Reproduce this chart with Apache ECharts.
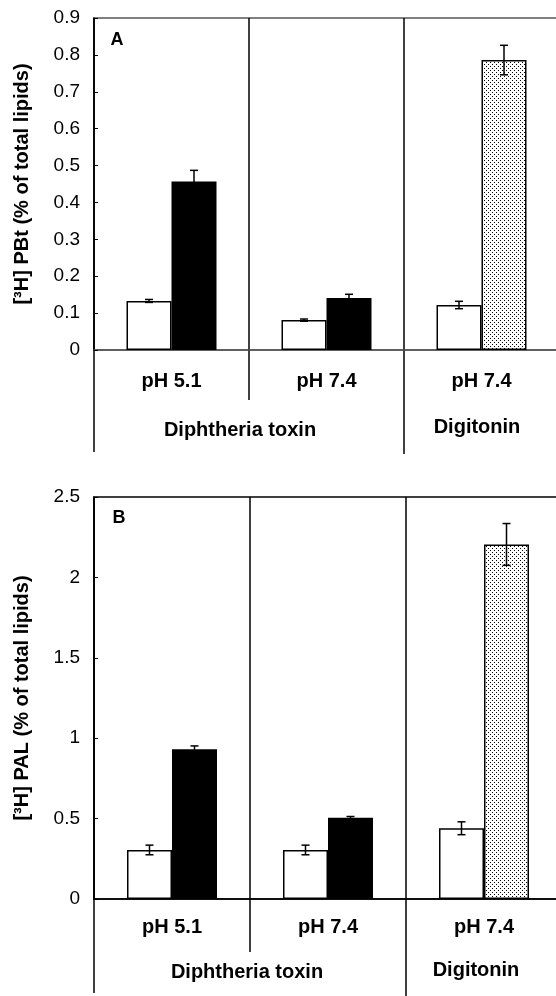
<!DOCTYPE html>
<html>
<head>
<meta charset="utf-8">
<script src="https://cdn.jsdelivr.net/npm/echarts@6/dist/echarts.min.js"></script>
<style>
  html, body { margin: 0; padding: 0; background: #fff; }
  #chart { width: 556px; height: 996px; }
</style>
</head>
<body>
<div id="chart"></div>
<script>
// data
var categories = ['pH 5.1', 'pH 7.4', 'pH 7.4'];
var groupLabels = ['Diphtheria toxin', 'Digitonin'];
var pbtControl = [0.133, 0.081, 0.122];
var pbtControlErr = [0.004, 0.003, 0.01];
var pbtTreated = [0.457, 0.141, 0.786];
var pbtTreatedErr = [0.03, 0.01, 0.04];
var palControl = [0.305, 0.305, 0.44];
var palControlErr = [0.03, 0.03, 0.04];
var palTreated = [0.932, 0.505, 2.205];
var palTreatedErr = [0.02, 0.008, 0.13];

var FONT = "'Liberation Sans', Arial, sans-serif";
var BAR_W = 45;
var gridA = { left: 94, top: 18, width: 465, height: 332 };
var gridB = { left: 94, top: 497, width: 468, height: 402 };

// dotted fill for the digitonin bars
function dotPattern() {
    var c = document.createElement('canvas');
    c.width = 4; c.height = 4;
    var ctx = c.getContext('2d');
    ctx.fillStyle = '#fff';
    ctx.fillRect(0, 0, 4, 4);
    ctx.fillStyle = '#000';
    ctx.fillRect(0, 0, 1, 1);
    ctx.fillRect(2, 2, 1, 1);
    return c;
}
var dots = { image: dotPattern(), repeat: 'repeat' };

function errData(vals, errs) {
    return vals.map(function (v, i) { return [i, v, errs[i]]; });
}

function errRender(offset) {
    return function (params, api) {
        var i = api.value(0), v = api.value(1), e = api.value(2);
        var hi = api.coord([i, v + e]);
        var lo = api.coord([i, v - e]);
        var x = hi[0] + offset;
        var st = { stroke: '#000', lineWidth: 1.5 };
        return {
            type: 'group',
            children: [
                { type: 'line', shape: { x1: x, y1: hi[1], x2: x, y2: lo[1] }, style: st },
                { type: 'line', shape: { x1: x - 4, y1: hi[1], x2: x + 4, y2: hi[1] }, style: st },
                { type: 'line', shape: { x1: x - 4, y1: lo[1], x2: x + 4, y2: lo[1] }, style: st }
            ]
        };
    };
}

function treatedData(vals) {
    return vals.map(function (v, i) {
        if (i === 2) return { value: v, itemStyle: { color: dots, borderColor: '#000', borderWidth: 1.5 } };
        return v;
    });
}

function xAxisFor(idx, hColor, margin) {
    return {
        type: 'category', gridIndex: idx, data: categories,
        axisLine: { lineStyle: { color: hColor, width: 1.5 } },
        axisTick: { show: false },
        splitLine: { show: true, lineStyle: { color: '#000', width: 1.5 } },
        axisLabel: { margin: margin, color: '#000', fontFamily: FONT, fontWeight: 'bold', fontSize: 20 }
    };
}

function yAxisFor(idx, max, interval, name) {
    return {
        type: 'value', gridIndex: idx, min: 0, max: max, interval: interval,
        name: name, nameLocation: 'middle', nameGap: 62, nameRotate: 90,
        nameTextStyle: { color: '#000', fontFamily: FONT, fontWeight: 'bold', fontSize: 20 },
        axisLine: { show: true, lineStyle: { color: '#000', width: 1.5 } },
        axisTick: { show: true, inside: true, length: 4, lineStyle: { color: '#000' } },
        splitLine: { show: false },
        axisLabel: { margin: 14, color: '#000', fontFamily: FONT, fontSize: 19 }
    };
}

function vline(x, y1, y2) {
    return { type: 'line', shape: { x1: x, y1: y1, x2: x, y2: y2 }, style: { stroke: '#000', lineWidth: 1.5 } };
}
function label(text, x, y, size) {
    return {
        type: 'text', x: x, y: y,
        style: { text: text, fill: '#000', font: 'bold ' + size + 'px ' + FONT, textAlign: 'center', textVerticalAlign: 'middle' }
    };
}

function gridOf(g, color) {
    return {
        left: g.left, top: g.top, width: g.width, height: g.height,
        outerBoundsMode: 'none', containLabel: false,
        show: true, borderColor: color, borderWidth: 1.5
    };
}

var chart = echarts.init(document.getElementById('chart'));
var option = {
    animation: false,
    grid: [gridOf(gridA, '#555'), gridOf(gridB, '#000')],
    xAxis: [xAxisFor(0, '#555', 21), xAxisFor(1, '#000', 18)],
    yAxis: [
        yAxisFor(0, 0.9, 0.1, '[³H] PBt (% of total lipids)'),
        yAxisFor(1, 2.5, 0.5, '[³H] PAL (% of total lipids)')
    ],
    series: [
        { type: 'bar', xAxisIndex: 0, yAxisIndex: 0, data: pbtControl, barWidth: BAR_W, barGap: '0%',
          itemStyle: { color: '#fff', borderColor: '#000', borderWidth: 1.5 } },
        { type: 'bar', xAxisIndex: 0, yAxisIndex: 0, data: treatedData(pbtTreated), barWidth: BAR_W, barGap: '0%',
          itemStyle: { color: '#000', borderColor: '#000', borderWidth: 1.5 } },
        { type: 'custom', xAxisIndex: 0, yAxisIndex: 0, z: 5, data: errData(pbtControl, pbtControlErr), renderItem: errRender(-BAR_W / 2) },
        { type: 'custom', xAxisIndex: 0, yAxisIndex: 0, z: 5, data: errData(pbtTreated, pbtTreatedErr), renderItem: errRender(BAR_W / 2) },

        { type: 'bar', xAxisIndex: 1, yAxisIndex: 1, data: palControl, barWidth: BAR_W, barGap: '0%',
          itemStyle: { color: '#fff', borderColor: '#000', borderWidth: 1.5 } },
        { type: 'bar', xAxisIndex: 1, yAxisIndex: 1, data: treatedData(palTreated), barWidth: BAR_W, barGap: '0%',
          itemStyle: { color: '#000', borderColor: '#000', borderWidth: 1.5 } },
        { type: 'custom', xAxisIndex: 1, yAxisIndex: 1, z: 5, data: errData(palControl, palControlErr), renderItem: errRender(-BAR_W / 2) },
        { type: 'custom', xAxisIndex: 1, yAxisIndex: 1, z: 5, data: errData(palTreated, palTreatedErr), renderItem: errRender(BAR_W / 2) }
    ],
    graphic: [
        // table lines below the axis
        vline(gridA.left, 350, 452),
        vline(gridA.left + gridA.width / 3, 350, 400),
        vline(gridA.left + gridA.width * 2 / 3, 350, 454),
        vline(gridB.left, 899, 993),
        vline(gridB.left + gridB.width / 3, 899, 952),
        vline(gridB.left + gridB.width * 2 / 3, 899, 996),
        label('A', 117, 40, 18),
        label('B', 119, 518, 18),
        label(groupLabels[0], 240, 430, 20),
        label(groupLabels[1], 477, 427, 20),
        label(groupLabels[0], 247, 972, 20),
        label(groupLabels[1], 476, 970, 20)
    ]
};
chart.setOption(option);
</script>
</body>
</html>
